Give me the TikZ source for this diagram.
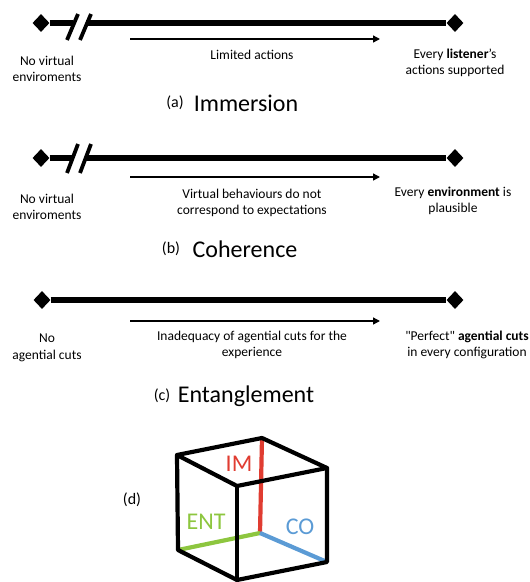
\documentclass[tikz,border=0pt]{standalone}
\usepackage{fontspec}
\setmainfont{Carlito}
\usetikzlibrary{positioning, shapes.geometric, arrows.meta}
\definecolor{imred}{HTML}{E03C31}
\definecolor{entgreen}{HTML}{8DC63F}
\definecolor{coblue}{HTML}{5B9BD5}
\tikzset{
  endtip/.style={diamond, fill=black, inner sep=0pt, minimum width=17pt, minimum height=18pt},
  scaleline/.style={line width=5.5pt},
  breakmark/.style={line width=3.8pt},
  trend/.style={-{Triangle[length=7pt,width=7pt]}, line width=1.4pt},
  lbl/.style={font=\fontsize{13.5}{16.5}\selectfont, align=center},
  capname/.style={font=\fontsize{24}{26}\selectfont},
  captag/.style={font=\fontsize{16}{18}\selectfont},
  cubeedge/.style={line width=4.2pt, line cap=round, line join=round},
  axisedge/.style={line width=4.2pt},
}
\begin{document}
\begin{tikzpicture}[x=1pt, y=-1pt]
\useasboundingbox (0,0) rectangle (530,582);
%% (a) immersion
  \node[endtip] (a0) at (41,23) {};
  \node[endtip] (a1) at (455,23) {};
  \coordinate (abreak0) at (73,23);
  \coordinate (abreak1) at (86,23);
  \draw[scaleline] (a0) -- (abreak0);
  \draw[scaleline] (abreak1) -- (a1);
  \draw[breakmark] (67,40) -- (78,14);
  \draw[breakmark] (80,40) -- (91,14);
  \coordinate (as) at (130,39);
  \coordinate (ae) at (380,39);
  \draw[trend] (as) -- (ae);
  \node[lbl] (aleft) at (47,69) {No virtual\\enviroments};
  \node[lbl] (amid) at (252,55) {Limited actions};
  \node[lbl] (aright) at (455,63) {Every \textbf{listener}’s\\actions supported};
  \node[captag] (atag) at (175,103) {(a)};
  \node[capname] (aname) at (246,103) {Immersion};
%% (b) coherence
  \node[endtip] (b0) at (41,158) {};
  \node[endtip] (b1) at (455,158) {};
  \coordinate (bbreak0) at (73,158);
  \coordinate (bbreak1) at (86,158);
  \draw[scaleline] (b0) -- (bbreak0);
  \draw[scaleline] (bbreak1) -- (b1);
  \draw[breakmark] (67,173) -- (78,144);
  \draw[breakmark] (80,173) -- (91,144);
  \coordinate (bs) at (130,177);
  \coordinate (be) at (380,177);
  \draw[trend] (bs) -- (be);
  \node[lbl] (bleft) at (47,207) {No virtual\\enviroments};
  \node[lbl] (bmid) at (252,203) {Virtual behaviours do not\\correspond to expectations};
  \node[lbl] (bright) at (453,201) {Every \textbf{environment} is\\plausible};
  \node[captag] (btag) at (171,249) {(b)};
  \node[capname] (bname) at (245,249) {Coherence};
%% (c) entanglement
  \node[endtip] (c0) at (42,300) {};
  \node[endtip] (c1) at (455,300) {};
  \draw[scaleline] (c0) -- (c1);
  \coordinate (cs) at (130,321);
  \coordinate (ce) at (380,321);
  \draw[trend] (cs) -- (ce);
  \node[lbl] (cleft) at (47,348) {No\\agential cuts};
  \node[lbl] (cmid) at (252,345) {Inadequacy of agential cuts for the\\experience};
  \node[lbl] (cright) at (467,345) {\textquotedbl Perfect\textquotedbl{} \textbf{agential cuts}\\in every configuration};
  \node[captag] (ctag) at (162,396) {(c)};
  \node[capname] (cname) at (246,396) {Entanglement};
%% (d) cube
  \coordinate (A) at (177,455);
  \coordinate (B) at (262,438);
  \coordinate (C) at (327,468);
  \coordinate (D) at (327,562);
  \coordinate (E) at (237,580);
  \coordinate (F) at (178,550);
  \coordinate (G) at (237,486);
  \coordinate (H) at (260,533);
  \draw[axisedge, imred] (H) -- (B);
  \draw[axisedge, entgreen] (H) -- (F);
  \draw[axisedge, coblue] (H) -- (D);
  \draw[cubeedge] (A) -- (B) -- (C) -- (D) -- (E) -- (F) -- cycle;
  \draw[cubeedge] (A) -- (G) -- (C);
  \draw[cubeedge] (G) -- (E);
  \node[capname, imred] (im) at (239,464) {IM};
  \node[capname, entgreen] (ent) at (206,522) {ENT};
  \node[capname, coblue] (co) at (300,527) {CO};
  \node[captag] (dtag) at (132,500) {(d)};
\end{tikzpicture}
\end{document}
